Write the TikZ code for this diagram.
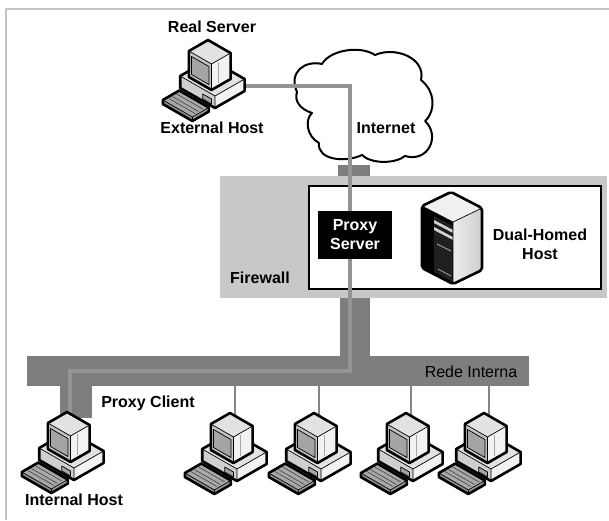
\documentclass[tikz,border=0pt]{standalone}
\usepackage{fontspec}
\setmainfont{Liberation Sans}
\usetikzlibrary{calc}

\definecolor{busgray}{HTML}{7E7E7E}
\definecolor{wallgray}{HTML}{C8C8C8}
\definecolor{cablegray}{HTML}{949494}
\definecolor{dropgray}{HTML}{858585}
\definecolor{framegray}{HTML}{C4C4C4}
\definecolor{pcfront}{HTML}{CFCFCF}
\definecolor{pcside}{HTML}{F2F2F2}
\definecolor{pctop}{HTML}{E2E2E2}
\definecolor{bezel}{HTML}{C4C4C4}
\definecolor{screen}{HTML}{A4A4A4}
\definecolor{keys}{HTML}{A8A8A8}

\tikzset{
  txt/.style={font=\fontsize{16}{19}\selectfont\bfseries, inner sep=0pt, align=center},
  plaintxt/.style={font=\fontsize{16}{19}\selectfont, inner sep=0pt},
  outline/.style={draw=black, line width=2.6pt, line join=round},
  thinedge/.style={draw=black, line width=0.7pt, line join=round},
  cable/.style={draw=cablegray, line width=3.4pt},
  droplink/.style={draw=dropgray, line width=2.8pt},
  block/.style={fill=busgray, draw=none, inner sep=0pt, anchor=north west},
  % isometric desktop computer; origin = front bottom corner of the base unit
  pc/.pic={
    % base unit
    \fill[pcside] (0,0) -- (29.6,-17) -- (29.6,-29) -- (0,-12) -- cycle;
    \fill[pcfront] (0,0) -- (-34.8,-20) -- (-34.8,-32) -- (0,-12) -- cycle;
    \fill[pctop] (0,-12) -- (-34.8,-32) -- (-5.2,-49) -- (29.6,-29) -- cycle;
    \filldraw[fill=gray!70, thinedge] (-3.5,-4) -- (-12.2,-9) -- (-12.2,-14) -- (-3.5,-9) -- cycle;
    \draw[thinedge] (0,0) -- (0,-12) -- (-34.8,-32) (0,-12) -- (29.6,-29);
    \draw[outline] (0,0) -- (29.6,-17) -- (29.6,-29) -- (-5.2,-49) -- (-34.8,-32) -- (-34.8,-20) -- cycle;
    % monitor
    \fill[pcside] (-3.5,-18) -- (15.6,-29) -- (15.6,-55) -- (-3.5,-44) -- cycle;
    \fill[bezel] (-3.5,-18) -- (-26.1,-31) -- (-26.1,-57) -- (-3.5,-44) -- cycle;
    \fill[pctop] (-3.5,-44) -- (-26.1,-57) -- (-7,-68) -- (15.6,-55) -- cycle;
    \filldraw[fill=screen, thinedge] (-6.1,-23.5) -- (-23.5,-33.5) -- (-23.5,-51.5) -- (-6.1,-41.5) -- cycle;
    \draw[gray!70, line width=0.8pt] (3.5,-25) -- (3.5,-46);
    \draw[thinedge] (-3.5,-18) -- (-3.5,-44) -- (-26.1,-57) (-3.5,-44) -- (15.6,-55);
    \draw[outline] (-3.5,-18) -- (15.6,-29) -- (15.6,-55) -- (-7,-68) -- (-26.1,-57) -- (-26.1,-31) -- cycle;
    % keyboard
    \fill[gray!75] (-6.1,-0.5) -- (-22.6,9) -- (-22.6,13) -- (-6.1,3.5) -- cycle;
    \fill[gray!85] (-22.6,9) -- (-52.2,-8) -- (-52.2,-4) -- (-22.6,13) -- cycle;
    \fill[keys] (-6.1,-0.5) -- (-35.7,-17.5) -- (-52.2,-8) -- (-22.6,9) -- cycle;
    \draw[gray!40!black, line width=0.5pt] (-12.2,1) -- (-38.3,-14) (-16.5,3.5) -- (-42.6,-11.5) (-20,5.5) -- (-46.1,-9.5);
    \draw[thinedge] (-6.1,-0.5) -- (-22.6,9) -- (-52.2,-8) (-22.6,9) -- (-22.6,13);
    \draw[outline] (-6.1,3.5) -- (-6.1,-0.5) -- (-35.7,-17.5) -- (-52.2,-8) -- (-52.2,-4) -- (-22.6,13) -- cycle;
    \coordinate (-top) at (-2,-56);
    \coordinate (-port) at (28,-22);
  }
}

\begin{document}
\begin{tikzpicture}[x=1pt, y=-1pt]
  \useasboundingbox (0,0) rectangle (609,520);
  \fill[white] (0,0) rectangle (609,520);

  % page frame
  \draw[framegray, line width=1.3pt] (6,520) -- (6,9) -- (609,9);

  % firewall with the dual-homed host inside
  \node[fill=wallgray, inner sep=0pt, anchor=north west, minimum width=387pt, minimum height=122pt] (fw) at (220,176) {};
  \node[draw=black, fill=white, line width=2pt, inner sep=0pt, anchor=north west, minimum width=292pt, minimum height=103pt] (dh) at (308,185) {};

  % Internet cloud
  \filldraw[fill=white, draw=black, line width=2pt, line join=round] (297,92)
    .. controls (288,72) and (305,60) .. (322,64)
    .. controls (330,50) and (360,45) .. (375,55)
    .. controls (395,46) and (426,58) .. (421,80)
    .. controls (434,90) and (437,110) .. (425,121)
    .. controls (441,136) and (428,163) .. (405,156)
    .. controls (395,164) and (371,164) .. (362,155)
    .. controls (345,163) and (317,160) .. (319,143)
    .. controls (306,136) and (305,119) .. (312,113)
    .. controls (300,109) and (294,101) .. (297,92) -- cycle;

  % trunk links and internal network bus
  \node[block, minimum width=32pt, minimum height=11pt] (uplink) at (338,165) {};
  \node[block, minimum width=30pt, minimum height=58pt] (downlink) at (340,298) {};
  \node[block, minimum width=502pt, minimum height=30pt] (bus) at (27,356) {};
  \node[block, minimum width=32pt, minimum height=32pt] (ihdrop) at (60,386) {};

  % hosts positions
  \coordinate (pos-eh) at (215,108);
  \coordinate (pos-ih) at (74,480);

  % drops from the bus to the internal workstations
  \foreach \n/\x in {a/237, b/321, c/413, d/491} {
    \coordinate (ws\n-top) at (\x-2,425);
  }
  \foreach \n in {a,b,c,d} {
    \draw[droplink] (ws\n-top |- bus.south) -- (ws\n-top);
  }

  % proxied connection from the external host to the internal host
  \coordinate (eh-port) at (243,86);
  \coordinate (cjoin) at (350,371);
  \coordinate (ih-top) at (70,424);
  \draw[cable] (eh-port) -| (cjoin) -| (ih-top);

  % proxy server
  \node[fill=black, text=white, txt, minimum width=74pt, minimum height=48pt] (proxy) at (355,235) {Proxy\\Server};

  % dual-homed host tower
  \fill[black] (453,222) -- (422,206) -- (422,268) -- (453,284) -- cycle;
  \fill[gray!25!black] (453,226) -- (434,216) -- (434,272) -- (453,282) -- cycle;
  \fill[gray!35] (453,230) -- (434,220) -- (434,223) -- (453,233) -- cycle;
  \fill[gray!35] (453,237) -- (434,227) -- (434,230) -- (453,240) -- cycle;
  \draw[gray!60, line width=0.7pt] (451,251) -- (437,244);
  \draw[gray!60, line width=0.7pt] (451,276) -- (438,269);
  \shade[left color=gray!15, right color=gray!38] (453,222) -- (482,208) -- (482,270) -- (453,284) -- cycle;
  \fill[gray!12] (453,222) -- (422,206) -- (451,192) -- (482,208) -- cycle;
  \draw[thinedge] (422,206) -- (453,222) -- (482,208) (453,222) -- (453,284);
  \draw[outline, rounded corners=2pt] (453,284) -- (482,270) -- (482,208) -- (451,192) -- (422,206) -- (422,268) -- cycle;

  % computers
  \pic (eh) at (pos-eh) {pc};
  \pic (ih) at (pos-ih) {pc};
  \pic (wsa) at (237,481) {pc};
  \pic (wsb) at (321,481) {pc};
  \pic (wsc) at (413,481) {pc};
  \pic (wsd) at (491,481) {pc};

  % labels
  \node[txt] (realsrv) at (212,27) {Real Server};
  \node[txt] (exthost) at (212,128) {External Host};
  \node[txt] (inet) at (386,128) {Internet};
  \node[txt] (fwlabel) at (260,278) {Firewall};
  \node[txt] (dhlabel) at (540,244) {Dual-Homed\\Host};
  \node[plaintxt] (rede) at (471,372) {Rede Interna};
  \node[txt] (pclabel) at (148,403) {Proxy Client};
  \node[txt] (ihlabel) at (74,500) {Internal Host};
\end{tikzpicture}
\end{document}
